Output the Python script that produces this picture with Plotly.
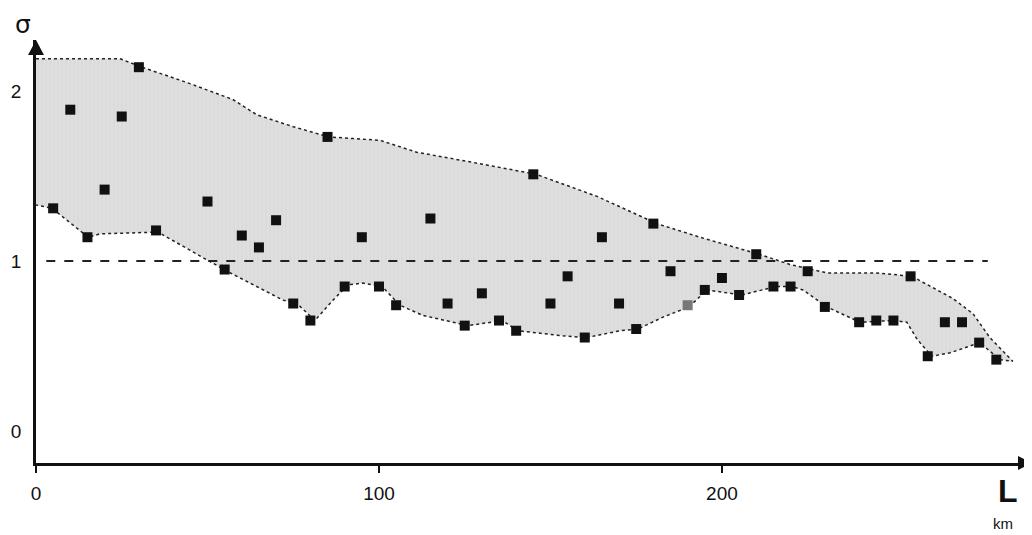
import plotly.graph_objects as go

# Measured points (L in km, sigma)
L_km = [5, 10, 15, 20, 25, 30, 35, 50, 55, 60, 65, 70, 75, 80, 85, 90, 95, 100, 105,
        115, 120, 125, 130, 135, 140, 145, 150, 155, 160, 165, 170, 175, 180, 185, 190,
        195, 200, 205, 210, 215, 220, 225, 230, 240, 245, 250, 255, 260, 265, 270, 275, 280]
sigma = [1.31, 1.89, 1.14, 1.42, 1.85, 2.14, 1.18, 1.35, 0.95, 1.15, 1.08, 1.24, 0.75, 0.65,
         1.73, 0.85, 1.14, 0.85, 0.74, 1.25, 0.75, 0.62, 0.81, 0.65, 0.59, 1.51, 0.75, 0.91,
         0.55, 1.14, 0.75, 0.60, 1.22, 0.94, 0.74, 0.83, 0.90, 0.80, 1.04, 0.85, 0.85, 0.94,
         0.73, 0.64, 0.65, 0.65, 0.91, 0.44, 0.64, 0.64, 0.52, 0.42]
gray_point = 190  # one lighter-printed point

# Envelope (shaded band) boundaries
upper_x = [0, 24.5, 30.9, 44, 57.4, 64.4, 75, 85.4, 100.3, 111, 127.4, 145.8, 163.6, 181,
           193.6, 207.3, 210.8, 219.8, 230.6, 245.2, 255.4, 262.7, 267.3, 273.2, 278.1, 284.8]
upper_y = [2.19, 2.19, 2.14, 2.05, 1.95, 1.86, 1.79, 1.73, 1.71, 1.64, 1.58, 1.51, 1.38, 1.22,
           1.14, 1.06, 1.04, 0.98, 0.93, 0.93, 0.91, 0.83, 0.78, 0.69, 0.55, 0.41]
lower_x = [0, 4.7, 15.2, 18.7, 35.6, 40, 48.7, 55.7, 64.4, 72, 76.1, 81.3, 86.6, 91, 95.3,
           100.9, 106.1, 112.8, 126, 135.9, 140.5, 153.6, 160.6, 170.3, 175.5, 182.8, 190.4,
           195.6, 205.8, 215.7, 220.4, 223.6, 230.6, 240.2, 249.9, 253.9, 256.9, 261.2, 266.5,
           275.2, 281, 284.8]
lower_y = [1.33, 1.31, 1.14, 1.16, 1.17, 1.12, 1.02, 0.94, 0.85, 0.77, 0.75, 0.65, 0.77, 0.86,
           0.87, 0.85, 0.74, 0.68, 0.62, 0.65, 0.59, 0.56, 0.55, 0.59, 0.60, 0.67, 0.73, 0.83,
           0.80, 0.85, 0.85, 0.83, 0.73, 0.64, 0.65, 0.64, 0.54, 0.44, 0.46, 0.52, 0.42, 0.41]

ref_level = 1.0
ref_x = [3, 277.5]

x_ticks = [0, 100, 200]
y_ticks = [0, 1, 2]

fig = go.Figure()

poly_x = upper_x + lower_x[::-1]
poly_y = upper_y + lower_y[::-1]
fig.add_trace(go.Scatter(
    x=poly_x, y=poly_y, mode="lines", fill="toself",
    fillcolor="#dcdcdc",
    fillpattern=dict(shape="|", bgcolor="#dfdfdf", fgcolor="#d0d0d0", size=4, solidity=0.3),
    line=dict(color="#222", width=1.5, dash="dot"),
    hoverinfo="skip", showlegend=False))

fig.add_trace(go.Scatter(
    x=ref_x, y=[ref_level, ref_level], mode="lines",
    line=dict(color="#222", width=2, dash="9px,9px"),
    showlegend=False))

colors = ["#777777" if x == gray_point else "#111111" for x in L_km]
fig.add_trace(go.Scatter(
    x=L_km, y=sigma, mode="markers",
    marker=dict(symbol="square", size=10, color=colors, line=dict(width=0)),
    showlegend=False))

arrow_common = dict(type="path", fillcolor="#111", line=dict(width=0),
                    xsizemode="pixel", ysizemode="pixel", xref="paper", yref="paper", layer="above")
shapes = [
    dict(arrow_common, xanchor=0, yanchor=1, path="M 0 0 L -8 -15 L 8 -15 Z"),
    dict(arrow_common, xanchor=1, yanchor=0, path="M 0 0 L -14 7 L -14 -7 Z"),
]

# page body adds an 8px margin, so the figure is 8px smaller and shifted
fig.update_layout(
    width=1024, height=527,
    margin=dict(l=28, r=0, t=32, b=72, autoexpand=False),
    paper_bgcolor="white", plot_bgcolor="white",
    font=dict(family="Liberation Sans, Arial, sans-serif", color="#111", size=19),
    shapes=shapes,
    xaxis=dict(range=[0, 290.4], tickvals=x_ticks, ticktext=[str(v) for v in x_ticks],
               showgrid=False, zeroline=False, showline=True, linecolor="#111", linewidth=2.5,
               ticks="outside", ticklen=7, tickwidth=1.5, tickcolor="#111",
               ticklabelstandoff=4, automargin=False, fixedrange=True),
    yaxis=dict(range=[-0.188, 2.30], tickvals=y_ticks, ticktext=[str(v) for v in y_ticks],
               showgrid=False, zeroline=False, showline=True, linecolor="#111", linewidth=2.5,
               ticks="", ticklabelstandoff=8, automargin=False, fixedrange=True),
    annotations=[
        dict(text="σ", xref="paper", yref="paper", x=-0.013, y=1.0,
             xanchor="center", yanchor="bottom", borderpad=0,
             showarrow=False, font=dict(size=25, family="DejaVu Sans, sans-serif")),
        dict(text="<b>L</b>", xref="paper", yref="paper", x=0.976, y=-0.066,
             xanchor="center", yanchor="middle",
             showarrow=False, font=dict(size=32, family="Liberation Sans, Arial, sans-serif")),
        dict(text="km", xref="paper", yref="paper", x=0.971, y=-0.142,
             xanchor="center", yanchor="middle",
             showarrow=False, font=dict(size=15, family="Liberation Sans, Arial, sans-serif")),
    ],
)

fig.write_html("out.html")
